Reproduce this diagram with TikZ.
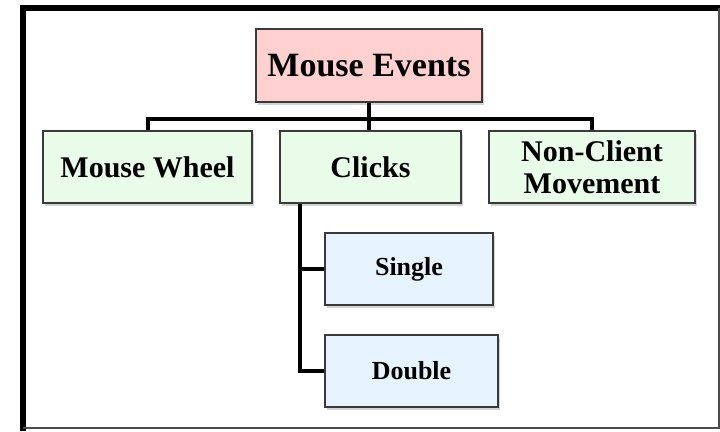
\documentclass[tikz,border=0pt]{standalone}
\usepackage{fontspec}
\setmainfont{Liberation Serif}
\usetikzlibrary{shadows}

\definecolor{eventpink}{HTML}{FFD0D0}
\definecolor{kindgreen}{HTML}{E9FCE9}
\definecolor{clickblue}{HTML}{E6F3FC}
\definecolor{boxline}{HTML}{3A3A3A}

\tikzset{
  evbox/.style={draw=boxline, line width=1.5pt, align=center, inner sep=0pt,
    font=\bfseries, drop shadow={shadow xshift=2pt, shadow yshift=-2.5pt, opacity=0.35}},
  link/.style={line width=4pt, black}
}

\begin{document}
\begin{tikzpicture}[x=1pt, y=-1pt]
  % Fix the page
  \useasboundingbox (0,0) rectangle (720,431);

  % Draw the frame
  \draw[line width=6pt] (23,431) -- (23,8) -- (720,8);
  \draw[line width=1.2pt, black!70] (23,428) -- (719,428) -- (719,8);

  % Draw the root
  \node[evbox, fill=eventpink, minimum width=226pt, minimum height=73pt,
    font=\bfseries\fontsize{34}{36}\selectfont] (events) at (369,65.5) {Mouse Events};

  % Draw the kinds of events
  \node[evbox, fill=kindgreen, minimum width=209pt, minimum height=72pt,
    font=\bfseries\fontsize{30}{32}\selectfont] (wheel) at (147.5,167) {Mouse Wheel};
  \node[evbox, fill=kindgreen, minimum width=181pt, minimum height=72pt,
    font=\bfseries\fontsize{30}{32}\selectfont] (clicks) at (370.5,167) {Clicks};
  \node[evbox, fill=kindgreen, minimum width=206pt, minimum height=72pt,
    font=\bfseries\fontsize{30}{32}\selectfont] (nonclient) at (592,167) {Non-Client\\Movement};

  % Draw the clicks
  \node[evbox, fill=clickblue, minimum width=168pt, minimum height=72pt,
    font=\bfseries\fontsize{26}{28}\selectfont] (single) at (409,269) {Single};
  \node[evbox, fill=clickblue, minimum width=173pt, minimum height=72pt,
    font=\bfseries\fontsize{26}{28}\selectfont] (double) at (411.5,371) {Double};

  % Draw the bus
  \coordinate (bus) at (0,118.5);
  \coordinate (trunk) at (300,0);
  \draw[link] (wheel.north) |- (events.south |- bus) -| (nonclient.north);
  \draw[link] (events.south) -- (events.south |- clicks.north);

  % Draw the branches of clicks
  \draw[link] (trunk |- clicks.south) |- (double.west);
  \draw[link] (trunk |- single.west) -- (single.west);
\end{tikzpicture}
\end{document}
